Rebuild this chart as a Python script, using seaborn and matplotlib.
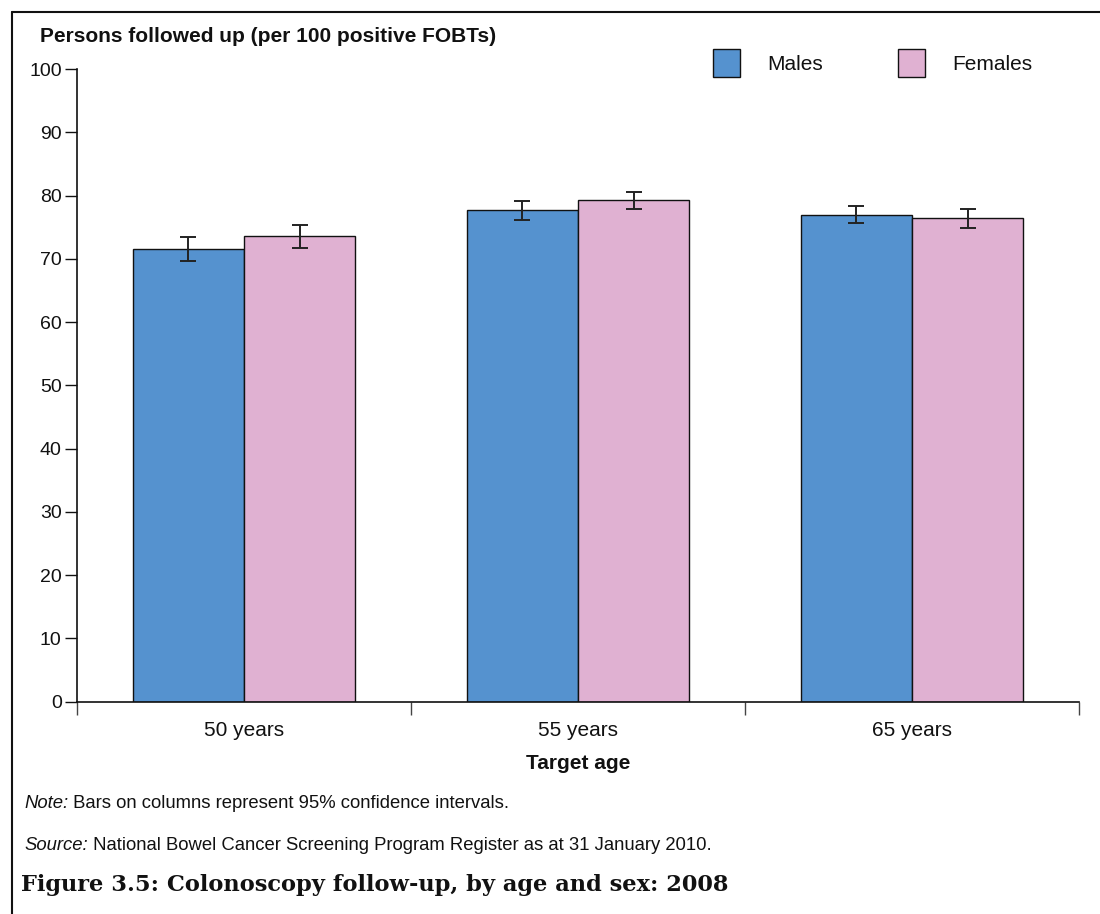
import matplotlib
matplotlib.use("Agg")
import matplotlib.pyplot as plt
from matplotlib.lines import Line2D
from matplotlib.patches import Patch
import seaborn as sns
import pandas as pd
import numpy as np

# Colonoscopy follow-up rates per 100 positive FOBTs, 2008
ages = ["50 years", "55 years", "65 years"]
sexes = ["Males", "Females"]
males = [71.5, 77.7, 77.0]
females = [73.6, 79.3, 76.4]
males_lo = [69.6, 76.2, 75.7]
males_hi = [73.4, 79.2, 78.3]
females_lo = [71.7, 77.9, 74.9]
females_hi = [75.3, 80.6, 77.8]
yticks = [0, 10, 20, 30, 40, 50, 60, 70, 80, 90, 100]

colors = {"Males": "#5592cf", "Females": "#e0b1d2"}

df = pd.DataFrame({
    "age": ages * 2,
    "sex": ["Males"] * 3 + ["Females"] * 3,
    "value": males + females,
})

sns.set_style("white")
plt.rcParams["font.family"] = ["Liberation Sans", "DejaVu Sans"]

fig = plt.figure(figsize=(11, 9.14), dpi=100)
ax = fig.add_axes([0.07, 0.2323, 0.911, 0.6922])

sns.barplot(data=df, x="age", y="value", hue="sex", order=ages, hue_order=sexes,
            palette=colors, width=0.667, errorbar=None, edgecolor="#111111",
            linewidth=1.0, saturation=1, legend=False, ax=ax)

# confidence intervals drawn at each bar's centre
lows = {"Males": males_lo, "Females": females_lo}
highs = {"Males": males_hi, "Females": females_hi}
for cont, sex in zip(ax.containers, sexes):
    xs = [p.get_x() + p.get_width() / 2 for p in cont.patches]
    vals = np.array([p.get_height() for p in cont.patches])
    lo = vals - np.array(lows[sex])
    hi = np.array(highs[sex]) - vals
    ax.errorbar(xs, vals, yerr=[lo, hi], fmt="none", ecolor="#222222",
                elinewidth=1.4, capsize=5.8, capthick=1.4, zorder=5)

ax.set_xlim(-0.5, 2.5)
ax.set_ylim(0, 100)
ax.set_yticks(yticks)
ax.tick_params(axis="y", which="major", length=9, width=1, color="#111111",
               labelsize=14, pad=2, direction="out", left=True, labelcolor="#111111")
ax.tick_params(axis="x", which="major", length=0, labelsize=15, pad=14,
               labelcolor="#111111")
ax.set_xticks([-0.5, 0.5, 1.5, 2.5], minor=True)
ax.tick_params(axis="x", which="minor", length=9, width=1, color="#444444",
               direction="out", bottom=True)

for s in ["top", "right"]:
    ax.spines[s].set_visible(False)
for s in ["left", "bottom"]:
    ax.spines[s].set_color("#111111")
    ax.spines[s].set_linewidth(1.2)

ax.set_xlabel("Target age", fontsize=15, fontweight="bold", labelpad=10, color="#111111")
ax.set_ylabel("")

fig.text(40 / 1100, 1 - 37 / 914, "Persons followed up (per 100 positive FOBTs)",
         fontsize=15, fontweight="bold", va="center", ha="left", color="#111111")

handles = [Patch(facecolor=colors[s], edgecolor="#111111", linewidth=1.0) for s in sexes]
fig.legend(handles, sexes, loc="center left", bbox_to_anchor=(694 / 1100, 1 - 63 / 914),
           ncol=2, frameon=False, fontsize=15, handlelength=1.3, handleheight=1.7,
           columnspacing=3.6, handletextpad=1.3, labelcolor="#111111")

# notes and caption
note = fig.text(24 / 1100, 1 - 803 / 914, "Note:", fontsize=13.3, style="italic",
                va="center", color="#111111")
plt.annotate(" Bars on columns represent 95% confidence intervals.", xy=(1, 0.5),
             xycoords=note, va="center", ha="left", fontsize=13.3, color="#111111",
             annotation_clip=False)
src = fig.text(24 / 1100, 1 - 845 / 914, "Source:", fontsize=13.3, style="italic",
               va="center", color="#111111")
plt.annotate(" National Bowel Cancer Screening Program Register as at 31 January 2010.",
             xy=(1, 0.5), xycoords=src, va="center", ha="left", fontsize=13.3,
             color="#111111", annotation_clip=False)
fig.text(21 / 1100, 1 - 885 / 914, "Figure 3.5: Colonoscopy follow-up, by age and sex: 2008",
         fontsize=16.2, fontweight="bold", family=["DejaVu Serif"], va="center",
         color="#111111")

# outer frame
fig.add_artist(Line2D([12 / 1100, 1.0], [1 - 12 / 914, 1 - 12 / 914],
                      transform=fig.transFigure, color="#111111", lw=1.5))
fig.add_artist(Line2D([12 / 1100, 12 / 1100], [1 - 12 / 914, 0.0],
                      transform=fig.transFigure, color="#111111", lw=1.5))

fig.savefig("out.png", dpi=100)
